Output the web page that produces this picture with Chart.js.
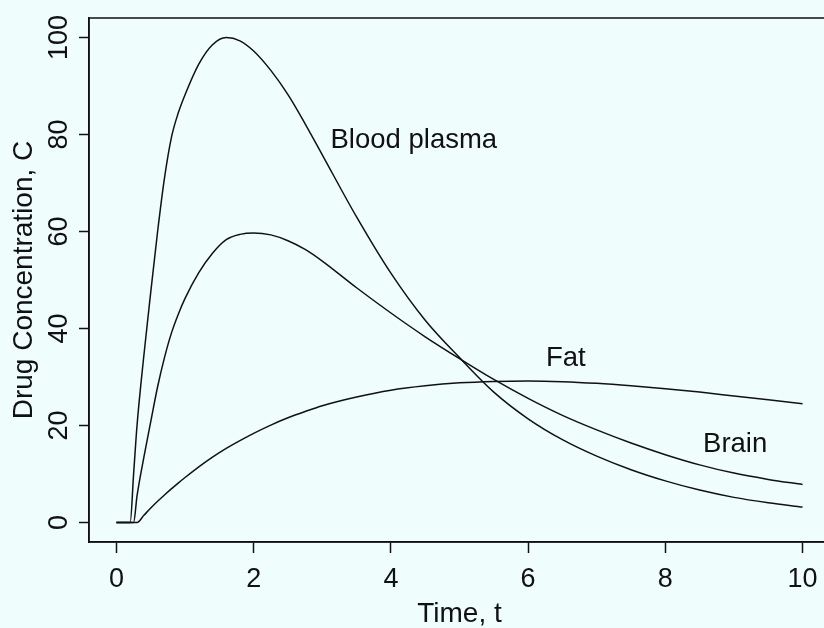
<!DOCTYPE html>
<html>
<head>
<meta charset="utf-8">
<title>Drug Concentration</title>
<script src="https://cdn.jsdelivr.net/npm/chart.js@4.4.1/dist/chart.umd.min.js"></script>
<style>
  html, body { margin: 0; padding: 0; overflow: hidden; background: #effdfd; }
  #wrap { width: 832px; height: 628px; position: relative; }
</style>
</head>
<body>
<div id="wrap"><canvas id="myChart"></canvas></div>
<script>
// time points and concentration in each compartment
const time   = [0, 0.2, 0.25, 0.3, 0.4, 0.5, 0.6, 0.7, 0.8, 0.9, 1.0, 1.2, 1.4, 1.6, 1.8, 2.0, 2.25, 2.5, 2.75, 3.0, 3.5, 4.0, 4.5, 5.0, 5.5, 6.0, 6.5, 7.0, 7.5, 8.0, 8.5, 9.0, 9.5, 10];
const plasma = [0, 0, 10, 20, 34.5, 47.5, 60, 71, 79.3, 84.4, 88.2, 94.5, 98.5, 100, 99.3, 97.2, 93.2, 88.2, 82.2, 75.8, 63.0, 51.4, 41.7, 34.0, 26.9, 21.4, 17.1, 13.7, 10.9, 8.6, 6.7, 5.2, 4.1, 3.2];
const brain  = [0, 0, 0, 5.5, 13.5, 20.8, 28, 34, 39, 42.9, 46.2, 51.5, 55.5, 58.3, 59.4, 59.7, 59.3, 58.1, 56.3, 53.9, 48.4, 43.2, 38.3, 33.8, 29.5, 25.6, 22.1, 19.1, 16.4, 14.0, 11.9, 10.2, 8.9, 7.85];
const fat    = [0, 0, 0, 0, 1.5, 3.0, 4.4, 5.7, 6.95, 8.15, 9.3, 11.5, 13.5, 15.3, 16.9, 18.4, 20.1, 21.6, 22.9, 24.1, 25.9, 27.3, 28.2, 28.8, 29.1, 29.2, 29.05, 28.7, 28.2, 27.6, 26.9, 26.1, 25.3, 24.5];

// curve labels, placed in data units (left edge, baseline)
const labelText = ['Blood plasma', 'Fat', 'Brain'];
const labelT    = [3.12, 6.26, 8.55];
const labelC    = [77.3, 32.3, 14.6];

const xTicks = [0, 2, 4, 6, 8, 10];
const yTicks = [0, 20, 40, 60, 80, 100];

const FONT = '"Liberation Sans", Arial, sans-serif';
const INK = '#111';

function toXY(ys) {
    return time.map(function(t, i) { return {x: t, y: ys[i]}; });
}

function lineSet(label, ys) {
    return {
        label: label,
        data: toXY(ys),
        borderColor: INK,
        borderWidth: 1.5,
        pointRadius: 0,
        fill: false,
        cubicInterpolationMode: 'monotone'
    };
}

// box around the plot area plus the text labels next to the curves
const boxAndLabels = {
    id: 'boxAndLabels',
    afterDraw: function(chart) {
        const ctx = chart.ctx;
        const a = chart.chartArea;
        const xs = chart.scales.x, ys = chart.scales.y;
        ctx.save();
        ctx.strokeStyle = INK;
        ctx.lineWidth = 1.5;
        ctx.strokeRect(a.left, a.top, a.right - a.left, a.bottom - a.top);
        ctx.fillStyle = INK;
        ctx.font = '27.5px ' + FONT;
        ctx.textAlign = 'left';
        ctx.textBaseline = 'alphabetic';
        for (let i = 0; i < labelText.length; i++) {
            ctx.fillText(labelText[i], xs.getPixelForValue(labelT[i]), ys.getPixelForValue(labelC[i]));
        }
        ctx.restore();
    }
};

const config = {
    type: 'line',
    data: {
        datasets: [lineSet('Blood plasma', plasma), lineSet('Brain', brain), lineSet('Fat', fat)]
    },
    options: {
        responsive: true,
        maintainAspectRatio: false,
        animation: false,
        layout: { padding: { top: 18, right: 2, left: 0, bottom: 0 } },
        plugins: { legend: { display: false }, tooltip: { enabled: false } },
        scales: {
            x: {
                type: 'linear',
                min: -0.4,
                max: 10.4,
                afterBuildTicks: function(s) { s.ticks = xTicks.map(function(v) { return {value: v}; }); },
                afterFit: function(s) { s.height = 86; },
                grid: { drawOnChartArea: false, tickLength: 11, tickColor: INK, tickWidth: 1.5 },
                border: { display: true, color: INK, width: 1.5 },
                ticks: { color: INK, font: { family: FONT, size: 27 }, padding: 10, maxRotation: 0 },
                title: { display: true, text: 'Time, t', color: INK,
                         font: { family: FONT, size: 28, lineHeight: 1 }, padding: { top: 0, bottom: 0 } }
            },
            y: {
                type: 'linear',
                min: -4,
                max: 104,
                afterBuildTicks: function(s) { s.ticks = yTicks.map(function(v) { return {value: v}; }); },
                afterFit: function(s) { s.width = 89; },
                grid: { drawOnChartArea: false, tickLength: 10, tickColor: INK, tickWidth: 1.5 },
                border: { display: true, color: INK, width: 1.5 },
                ticks: { color: INK, font: { family: FONT, size: 27 }, padding: -3,
                         minRotation: 90, maxRotation: 90, crossAlign: 'center' },
                title: { display: true, text: 'Drug Concentration, C', color: INK,
                         font: { family: FONT, size: 28, lineHeight: 1 }, padding: { top: 10, bottom: 0 } }
            }
        }
    },
    plugins: [boxAndLabels]
};

const myChart = new Chart(document.getElementById('myChart'), config);
</script>
</body>
</html>
